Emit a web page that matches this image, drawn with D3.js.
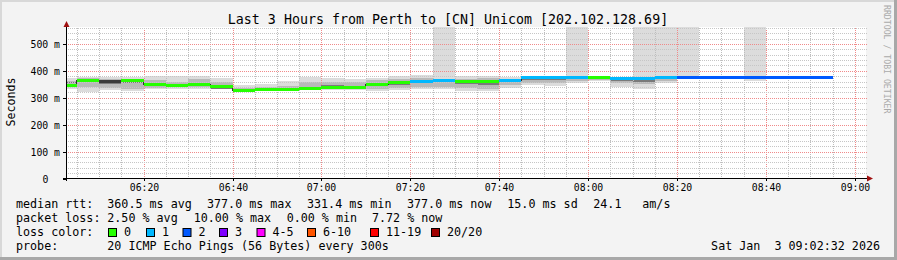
<!DOCTYPE html>
<html><head><meta charset="utf-8">
<script src="https://cdn.jsdelivr.net/npm/d3@7/dist/d3.min.js"></script>
<style>
body{margin:0;background:#f3f3f3}
svg{display:block}
text{font-family:"DejaVu Sans Mono",monospace;fill:#000;white-space:pre}
</style>
</head><body>
<svg id="c" width="897" height="260"></svg>
<script>
// ---------- data ----------
const intervalStart = ["06:00","06:05","06:10","06:15","06:20","06:25","06:30","06:35","06:40","06:45",
  "06:50","06:55","07:00","07:05","07:10","07:15","07:20","07:25","07:30","07:35",
  "07:40","07:45","07:50","07:55","08:00","08:05","08:10","08:15","08:20","08:25",
  "08:30","08:35","08:40","08:45","08:50"];
const medianRtt = [347,363,360,363,351,347,351,341,328,331,331,334,340,340,348,356,361,365,360,360,
  363,375,375,375,376,373,373,377,377,377,377,377,377,377,377];
// index into lossColors (-1 = no colour band, dark median only)
const lossClass = [0,0,-1,0,0,0,0,0,0,0,0,0,0,0,0,0,1,1,0,0,1,1,1,1,0,1,1,1,2,2,2,2,2,2,2];
const smokeLo = [334,321,328,325,331,331,334,334,325,327,329,332,328,328,325,328,331,334,325,325,
  337,347,344,355,362,340,334,354,375,376,376,364,376,376,376];
const smokeHi = [375,379,379,379,381,381,381,374,349,352,363,377,373,371,373,381,385,385,381,381,
  377,377,377,377,378,376,377,378,378,378,378,378,378,378,378];
const innerLo = [348,340,335,334,338,340,341,335,326,328,330,333,334,334,334,337,340,340,335,334,
  346,355,355,362,367,356,350,362,375,376,376,370,376,376,376];
const innerHi = [362,373,371,371,365,360,368,358,338,340,344,358,360,358,365,369,373,371,371,373,
  371,373,371,375,376,373,373,377,377,378,378,377,378,378,378];
const coreLo = [354,358,352,355,345,343,346,332,327,329,330,333,342,337,344,349,355,358,352,348,
  358,366,366,368,372,362,360,370,376,377,377,374,377,377,377];
const coreHi = [360,366,360,363,352,350,355,342,331,333,333,337,348,343,350,356,362,366,360,356,
  363,375,375,375,376,373,373,377,377,377,377,377,377,377,377];
const pingsLost = [0,0,0,0,0,0,0,0,0,0,0,0,0,0,0,0,0,1,0,0,0,0,0,1,0,0,1,1,1,0,0,1,0,0,0];

const lossLabels = ["0","1","2","3","4-5","6-10","11-19","20/20"];
const lossColors = ["#26ff00","#00b8ff","#0059ff","#7e00ff","#ff00ff","#ff5500","#ff0000","#a00000"];
const yTicks = [0,100,200,300,400,500];
const yTickLabels = ["0","100 m","200 m","300 m","400 m","500 m"];
const xTickLabels = ["06:20","06:40","07:00","07:20","07:40","08:00","08:20","08:40","09:00"];

const titleText = "Last 3 Hours from Perth to [CN] Unicom [202.102.128.69]";
const statsRtt = ["360.5 ms avg","377.0 ms max","331.4 ms min","377.0 ms now","15.0 ms sd","24.1","am/s"];
const statsLoss = ["2.50 % avg","10.00 % max","0.00 % min","7.72 % now"];
const probeText = "20 ICMP Echo Pings (56 Bytes) every 300s";
const stampText = "Sat Jan  3 09:02:32 2026";

// ---------- scales ----------
const day = "2026-01-03T";
const T = s => new Date(day + s + (s.length === 5 ? ":00" : ""));
const x = d3.scaleTime().domain([T("06:02:32"), T("09:02:32")]).range([66, 866]);
const y = d3.scaleLinear().domain([0, 563]).range([178.5, 27]);
const yMax = 563;

const svg = d3.select("#c");
const defs = svg.append("defs");
function dotPattern(id, w, h, color){
  const p = defs.append("pattern").attr("id",id).attr("width",w).attr("height",h)
    .attr("patternUnits","userSpaceOnUse");
  p.append("rect").attr("width",1).attr("height",1).attr("fill",color);
}
dotPattern("vMinor",1,2,"#bdbdbd");
dotPattern("vMajor",1,2,"#f08a8a");
dotPattern("hMinor",2,1,"#c6c6c6");
dotPattern("hMajor",2,1,"#f08a8a");

// background & frame
svg.append("rect").attr("width",897).attr("height",260).attr("fill","#f3f3f3");
svg.append("rect").attr("x",0).attr("y",0).attr("width",897).attr("height",2).attr("fill","#d8d8d8");
svg.append("rect").attr("x",0).attr("y",0).attr("width",2).attr("height",260).attr("fill","#d8d8d8");
svg.append("rect").attr("x",0).attr("y",257).attr("width",897).attr("height",3).attr("fill","#a8a8a8");
svg.append("rect").attr("x",894).attr("y",0).attr("width",3).attr("height",260).attr("fill","#a8a8a8");

// plot background
const px0 = x.range()[0], px1 = x.range()[1];
const plotTop = Math.round(y(yMax)), plotBot = Math.round(y(0) - 0.5);
svg.append("rect").attr("x",px0).attr("y",plotTop).attr("width",px1-px0).attr("height",plotBot-plotTop).attr("fill","#fff");

svg.append("clipPath").attr("id","clip").append("rect")
  .attr("x",px0).attr("y",plotTop).attr("width",px1-px0).attr("height",plotBot-plotTop);
const plot = svg.append("g").attr("clip-path","url(#clip)").attr("shape-rendering","crispEdges");

const iv = intervalStart.map((s,i) => {
  const a = T(s);
  return {i, x0: x(a), x1: x(d3.timeMinute.offset(a,5))};
});

// smoke
function band(lo, hi, color, lossTop){
  plot.append("g").selectAll("rect").data(iv).join("rect")
    .attr("x", d => d.x0).attr("width", d => d.x1 - d.x0)
    .attr("y", d => y(lossTop && pingsLost[d.i] ? yMax : hi[d.i]))
    .attr("height", d => Math.max(0, y(lo[d.i]) - y(lossTop && pingsLost[d.i] ? yMax : hi[d.i])))
    .attr("fill", color);
}
band(smokeLo, smokeHi, "#dcdcdc", true);
band(innerLo, innerHi, "#b9b9b9", false);
band(coreLo, coreHi, "#7a7a7a", false);

// grid (dotted, over the smoke)
const grid = svg.append("g").attr("shape-rendering","crispEdges");
const minorT = d3.timeMinute.every(5).range(T("06:05"), T("09:02"));
minorT.forEach(t => {
  const major = t.getMinutes() % 20 === 0;
  grid.append("rect").attr("x", Math.round(x(t))).attr("width",1)
    .attr("y", plotTop).attr("height", plotBot - plotTop)
    .attr("fill", major ? "url(#vMajor)" : "url(#vMinor)");
});
d3.range(20, 561, 20).forEach(v => {
  const major = v % 100 === 0;
  grid.append("rect").attr("x", px0).attr("width", px1 + 2 - px0)
    .attr("y", Math.round(y(v))).attr("height", 1)
    .attr("fill", major ? "url(#hMajor)" : "url(#hMinor)");
});

// median layer
const medLayer = svg.append("g").attr("clip-path","url(#clip)").attr("shape-rendering","crispEdges");
const medPts = [];
iv.forEach(d => { medPts.push([d.x0, y(medianRtt[d.i])]); medPts.push([d.x1, y(medianRtt[d.i])]); });
medLayer.append("path").attr("d", d3.line()(medPts)).attr("fill","none").attr("stroke","#303030").attr("stroke-width",1);
medLayer.append("g").selectAll("rect").data(iv).join("rect")
  .attr("x", d => d.x0).attr("width", d => d.x1 - d.x0)
  .attr("y", d => y(medianRtt[d.i]) - 1.5).attr("height", 3)
  .attr("fill", d => lossClass[d.i] < 0 ? "#3a3a3a" : lossColors[lossClass[d.i]]);

// axes
const ax = svg.append("g").attr("shape-rendering","crispEdges");
ax.append("line").attr("x1",px0-3).attr("x2",px1+2).attr("y1",178.5).attr("y2",178.5).attr("stroke","#000");
ax.append("line").attr("x1",66.5).attr("x2",66.5).attr("y1",181).attr("y2",26).attr("stroke","#000");
svg.append("path").attr("d","M63.5,27 L66.5,21 L69.5,27 Z").attr("fill","#a01010");
svg.append("path").attr("d","M867,175.5 L873,178.5 L867,181.5 Z").attr("fill","#a01010");

yTicks.forEach((v,k) => {
  const yy = Math.round(y(v)) + 0.5;
  ax.append("line").attr("x1",63).attr("x2",66).attr("y1",yy).attr("y2",yy).attr("stroke","#000");
  svg.append("text").attr("x", v === 0 ? 48.5 : 60).attr("y", yy + 3.5)
    .attr("text-anchor","end").style("font-size","9.8px").text(yTickLabels[k]);
});
xTickLabels.forEach(s => {
  const xx = Math.round(x(T(s))) + 0.5;
  ax.append("line").attr("x1",xx).attr("x2",xx).attr("y1",178).attr("y2",181).attr("stroke","#000");
  svg.append("text").attr("x", xx).attr("y", 191).attr("text-anchor","middle").style("font-size","9.8px").text(s);
});

// title & labels
svg.append("text").attr("x",448).attr("y",23.5).attr("text-anchor","middle").style("font-size","13.3px").text(titleText);
svg.append("text").attr("transform","translate(15,102) rotate(-90)").attr("text-anchor","middle")
  .style("font-size","11.6px").text("Seconds");
svg.append("text").attr("transform","translate(884,5) rotate(90)").style("font-size","8.2px")
  .style("fill","#aaaaaa").text("RRDTOOL / TOBI OETIKER");

// legend
const lg = svg.append("g").style("font-size","11.7px");
const row = [208, 222, 236, 250];
lg.append("text").attr("x",16).attr("y",row[0]).text("median rtt:");
[107.3,207,307,407,507.3,593.3,642.3].forEach((xx,k) => lg.append("text").attr("x",xx).attr("y",row[0]).text(statsRtt[k]));
lg.append("text").attr("x",16).attr("y",row[1]).text("packet loss:");
[107.3,193.7,286.7,372].forEach((xx,k) => lg.append("text").attr("x",xx).attr("y",row[1]).text(statsLoss[k]));
lg.append("text").attr("x",16).attr("y",row[2]).text("loss color:");
const boxX = [108.5,146.5,183,219.5,257,307.5,370.5,431.5];
lossLabels.forEach((l,k) => {
  lg.append("rect").attr("x",boxX[k]).attr("y",228.5).attr("width",8).attr("height",8)
    .attr("fill",lossColors[k]).attr("stroke","#000").attr("stroke-width",1);
  lg.append("text").attr("x",boxX[k]+15.5).attr("y",row[2]).text(l);
});
lg.append("text").attr("x",16).attr("y",row[3]).text("probe:");
lg.append("text").attr("x",107.3).attr("y",row[3]).text(probeText);
lg.append("text").attr("x",880).attr("y",row[3]).attr("text-anchor","end").text(stampText);
</script>
</body></html>
